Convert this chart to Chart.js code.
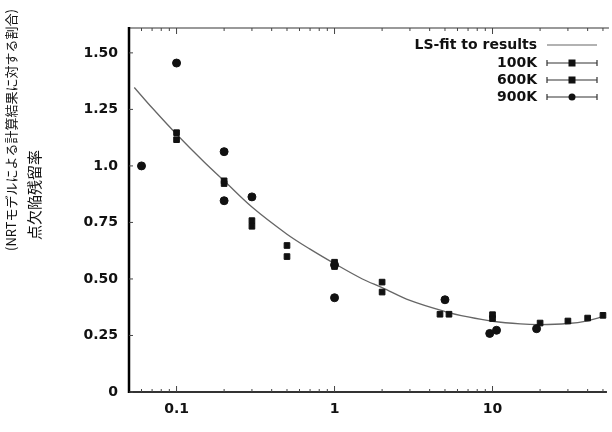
<!DOCTYPE html>
<html>
<head>
<meta charset="utf-8">
<script src="https://cdn.jsdelivr.net/npm/chart.js@4/dist/chart.umd.min.js"></script>
<style>
  html, body { margin: 0; padding: 0; background: #fff; }
</style>
</head>
<body>
<canvas id="chart" width="612" height="432"></canvas>
<script>
// LS-fit curve
const fitX = [0.054, 0.07, 0.1, 0.15, 0.2, 0.3, 0.5, 0.7, 1, 1.5, 2, 3, 5, 7, 10, 15, 20, 30, 40, 50];
const fitY = [1.347, 1.257, 1.14, 1.016, 0.934, 0.818, 0.698, 0.632, 0.568, 0.5, 0.462, 0.405, 0.356, 0.332, 0.313, 0.301, 0.298, 0.303, 0.315, 0.333];

const k100X = [0.1, 0.2, 0.3, 0.5, 1, 2, 4.65, 10, 30];
const k100Y = [1.147, 0.934, 0.758, 0.648, 0.574, 0.486, 0.344, 0.325, 0.314];

const k600X = [0.1, 0.2, 0.3, 0.5, 1, 2, 5.3, 10, 20, 40, 50];
const k600Y = [1.116, 0.922, 0.733, 0.599, 0.555, 0.442, 0.344, 0.342, 0.305, 0.327, 0.339];

const k900X = [0.06, 0.1, 0.2, 0.2, 0.3, 1, 1, 5, 9.6, 10.6, 19];
const k900Y = [1.0, 1.455, 1.063, 0.846, 0.863, 0.562, 0.417, 0.408, 0.259, 0.273, 0.28];

const seriesNames = ["LS-fit to results", "100K", "600K", "900K"];

const yTickVals = [0, 0.25, 0.5, 0.75, 1.0, 1.25, 1.5];
const yTickLabels = ["0", "0.25", "0.50", "0.75", "1.0", "1.25", "1.50"];

const xTickVals = [0.05, 0.06, 0.07, 0.08, 0.09, 0.1, 0.2, 0.3, 0.4, 0.5, 0.6, 0.7, 0.8, 0.9,
  1, 2, 3, 4, 5, 6, 7, 8, 9, 10, 20, 30, 40, 50];
const xMajor = [0.1, 1, 10];
const xTickLabels = ["0.1", "1", "10"];

const yTitle = ["点欠陥残留率", "(NRTモデルによる計算結果に対する割合)"];

const tickFont = { family: "DejaVu Sans", size: 14, weight: "bold" };

function toPoints(xs, ys) {
  return xs.map((x, i) => ({ x: x, y: ys[i] }));
}

// axes frame and inward ticks
const framePlugin = {
  id: "frame",
  beforeDatasetsDraw(chart) {
    const { ctx, chartArea: a, scales } = chart;
    ctx.save();
    ctx.lineWidth = 2;
    ctx.strokeStyle = "#999";
    ctx.beginPath();
    ctx.moveTo(a.left, a.top);
    ctx.lineTo(a.right + 2, a.top);
    ctx.stroke();
    ctx.strokeStyle = "#333";
    ctx.beginPath();
    ctx.moveTo(a.left, a.bottom);
    ctx.lineTo(a.right, a.bottom);
    ctx.stroke();
    ctx.strokeStyle = "#000";
    ctx.lineWidth = 2.5;
    ctx.beginPath();
    ctx.moveTo(a.left, a.top - 1);
    ctx.lineTo(a.left, a.bottom + 1);
    ctx.stroke();

    ctx.lineWidth = 1;
    ctx.strokeStyle = "#444";
    scales.y.ticks.forEach(t => {
      const py = scales.y.getPixelForValue(t.value);
      ctx.beginPath();
      ctx.moveTo(a.left, py);
      ctx.lineTo(a.left + 4, py);
      ctx.stroke();
    });
    scales.x.ticks.forEach(t => {
      const px = scales.x.getPixelForValue(t.value);
      if (px <= a.left + 1 || px >= a.right - 1) return;
      const len = xMajor.includes(t.value) ? 6 : 3;
      ctx.beginPath();
      ctx.moveTo(px, a.bottom);
      ctx.lineTo(px, a.bottom - len);
      ctx.moveTo(px, a.top);
      ctx.lineTo(px, a.top + len);
      ctx.stroke();
    });
    ctx.restore();
  }
};

// two-line rotated y title
const titlePlugin = {
  id: "ytitle",
  afterDraw(chart) {
    const ctx = chart.ctx;
    ctx.save();
    ctx.fillStyle = "#111";
    ctx.textAlign = "center";
    ctx.textBaseline = "middle";
    ctx.translate(34, 195);
    ctx.rotate(-Math.PI / 2);
    ctx.font = "15px 'Noto Sans CJK JP'";
    ctx.fillText(yTitle[0], 0, 0);
    ctx.restore();
    ctx.save();
    ctx.fillStyle = "#111";
    ctx.textAlign = "center";
    ctx.textBaseline = "middle";
    ctx.translate(11, 130);
    ctx.rotate(-Math.PI / 2);
    ctx.font = "13px 'Noto Sans CJK JP'";
    ctx.fillText(yTitle[1], 0, 0);
    ctx.restore();
  }
};

// legend in the top right corner, text right-aligned, sample on the right
const legendPlugin = {
  id: "cornerLegend",
  afterDraw(chart) {
    const ctx = chart.ctx;
    const textRight = 537, x0 = 547, x1 = 597;
    const rows = [45, 63, 80, 97];
    ctx.save();
    ctx.font = "bold 14px 'DejaVu Sans'";
    ctx.textAlign = "right";
    ctx.textBaseline = "middle";
    ctx.fillStyle = "#111";
    chart.data.datasets.forEach((ds, i) => {
      const y = rows[i];
      ctx.fillText(seriesNames[i], textRight, y);
      ctx.strokeStyle = i === 0 ? "#666" : "#333";
      ctx.lineWidth = 1.2;
      ctx.beginPath();
      ctx.moveTo(x0, y);
      ctx.lineTo(x1, y);
      if (i > 0) {
        ctx.moveTo(x0, y - 3);
        ctx.lineTo(x0, y + 3);
        ctx.moveTo(x1, y - 3);
        ctx.lineTo(x1, y + 3);
      }
      ctx.stroke();
      if (i > 0) {
        ctx.fillStyle = "#111";
        const cx = (x0 + x1) / 2;
        if (ds.pointStyle === "circle") {
          ctx.beginPath();
          ctx.arc(cx, y, 3.5, 0, Math.PI * 2);
          ctx.fill();
        } else {
          ctx.fillRect(cx - 3.5, y - 3.5, 7, 7);
        }
      }
    });
    ctx.restore();
  }
};

const ctx = document.getElementById("chart").getContext("2d");

const chart = new Chart(ctx, {
  type: "scatter",
  data: {
    datasets: [
      {
        label: seriesNames[0],
        data: toPoints(fitX, fitY),
        showLine: true,
        borderColor: "#666",
        borderWidth: 1.3,
        pointRadius: 0,
        tension: 0.35,
        order: 2
      },
      {
        label: seriesNames[1],
        data: toPoints(k100X, k100Y),
        pointStyle: "rect",
        pointRadius: 4,
        backgroundColor: "#111",
        borderColor: "#111",
        order: 1
      },
      {
        label: seriesNames[2],
        data: toPoints(k600X, k600Y),
        pointStyle: "rect",
        pointRadius: 4,
        backgroundColor: "#111",
        borderColor: "#111",
        order: 1
      },
      {
        label: seriesNames[3],
        data: toPoints(k900X, k900Y),
        pointStyle: "circle",
        pointRadius: 4,
        backgroundColor: "#111",
        borderColor: "#111",
        order: 1
      }
    ]
  },
  options: {
    responsive: false,
    animation: false,
    devicePixelRatio: 1,
    layout: { padding: { top: 28, right: 2, left: 0, bottom: 0 } },
    plugins: {
      legend: { display: false },
      tooltip: { enabled: false }
    },
    scales: {
      x: {
        type: "logarithmic",
        min: 0.05,
        max: 53,
        grid: { display: false, drawTicks: false },
        border: { display: false },
        afterBuildTicks: scale => {
          scale.ticks = xTickVals.map(v => ({ value: v }));
        },
        afterFit: scale => { scale.height = 40; },
        ticks: {
          autoSkip: false,
          maxRotation: 0,
          padding: 9,
          color: "#111",
          font: tickFont,
          callback: value => {
            const i = xMajor.indexOf(value);
            return i >= 0 ? xTickLabels[i] : "";
          }
        }
      },
      y: {
        min: 0,
        max: 1.61,
        grid: { display: false, drawTicks: false },
        border: { display: false },
        afterBuildTicks: scale => {
          scale.ticks = yTickVals.map(v => ({ value: v }));
        },
        afterFit: scale => { scale.width = 129; },
        ticks: {
          padding: 11,
          color: "#111",
          font: tickFont,
          callback: value => {
            const i = yTickVals.indexOf(value);
            return i >= 0 ? yTickLabels[i] : "";
          }
        }
      }
    }
  },
  plugins: [framePlugin, titlePlugin, legendPlugin]
});
</script>
</body>
</html>
